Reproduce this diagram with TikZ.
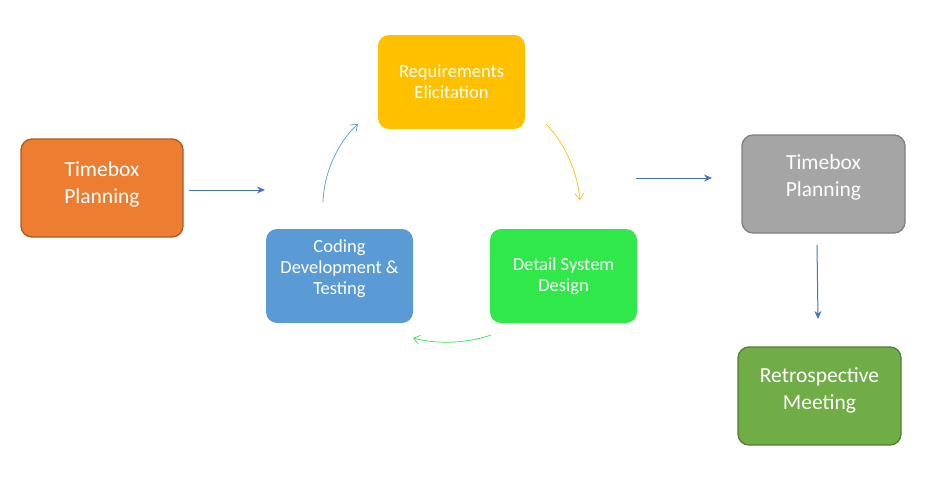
\documentclass[tikz,border=0pt]{standalone}
\usepackage{fontspec}
\setmainfont{Carlito}
\usetikzlibrary{arrows.meta}
\definecolor{corange}{HTML}{ED7D31}
\definecolor{corangeb}{HTML}{AE5A21}
\definecolor{cyellow}{HTML}{FFC000}
\definecolor{cblue}{HTML}{5B9BD5}
\definecolor{cgreen}{HTML}{30E84A}
\definecolor{cgray}{HTML}{A5A5A5}
\definecolor{cgrayb}{HTML}{7F7F7F}
\definecolor{cdgreen}{HTML}{70AD47}
\definecolor{cdgreenb}{HTML}{507E32}
\definecolor{carrow}{HTML}{4472C4}
\begin{document}
\begin{tikzpicture}[x=1pt,y=-1pt,
  box/.style={rounded corners=11pt},
  bigtxt/.style={font=\fontsize{21.5}{27}\selectfont, text=white, align=center, inner sep=0pt},
  smalltxt/.style={font=\fontsize{18.5}{21}\selectfont, text=white, align=center, inner sep=0pt},
  arr/.style={-{Stealth[length=8pt,width=7pt]}, line width=1pt, draw=carrow},
  carr/.style={-{Straight Barb[length=6pt,width=9pt]}, line width=0.7pt}]
\useasboundingbox (0,0) rectangle (940,490);
% boxes
\path[box, fill=corange, draw=corangeb, line width=1.3pt] (21,139) rectangle (183,237);
\node[bigtxt] (tp1) at (102,184) {Timebox\\Planning};
\path[box, fill=cyellow] (378,35) rectangle (525,129);
\node[smalltxt] (re) at (451.5,82) {Requirements\\Elicitation};
\path[box, fill=cblue] (266,229) rectangle (413,323);
\node[smalltxt] (cd) at (339.5,269) {Coding\\Development \&\\Testing};
\path[box, fill=cgreen] (490,229) rectangle (637,323);
\node[smalltxt] (ds) at (563.5,276) {Detail System\\Design};
\path[box, fill=cgray, draw=cgrayb, line width=1.3pt] (742,135) rectangle (905,233);
\node[bigtxt] (tp2) at (823.5,177) {Timebox\\Planning};
\path[box, fill=cdgreen, draw=cdgreenb, line width=1.3pt] (738,347) rectangle (901,445);
\node[bigtxt] (rm) at (819.5,390) {Retrospective\\Meeting};
% arrow end points
\coordinate (a1s) at (189,190); \coordinate (a1e) at (265,190);
\coordinate (a2s) at (636,178); \coordinate (a2e) at (712,178);
\coordinate (a3s) at (817,245); \coordinate (a3e) at (818,319);
\coordinate (b1s) at (323,202); \coordinate (b1e) at (358,124);
\coordinate (y1s) at (546,124); \coordinate (y1e) at (580,200);
\coordinate (g1s) at (491,335); \coordinate (g1e) at (413,338);
\draw[arr] (a1s) -- (a1e);
\draw[arr] (a2s) -- (a2e);
\draw[arr] (a3s) -- (a3e);
\draw[carr, draw=cblue] (b1s) .. controls (324,170) and (340,140) .. (b1e);
\draw[carr, draw=cyellow] (y1s) .. controls (562,140) and (577,168) .. (y1e);
\draw[carr, draw=cgreen] (g1s) .. controls (465,344) and (435,344) .. (g1e);
\end{tikzpicture}
\end{document}
